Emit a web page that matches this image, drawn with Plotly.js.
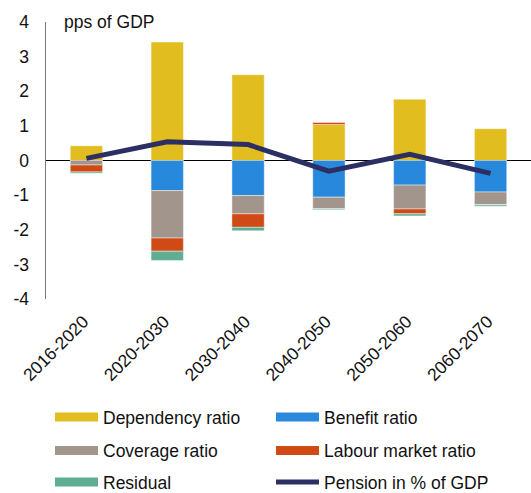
<!DOCTYPE html>
<html><head><meta charset="utf-8">
<script src="https://cdn.plot.ly/plotly-3.0.1.min.js"></script>
<style>html,body{margin:0;padding:0;background:#fff}#chart{width:531px;height:493px}</style>
</head><body><div id="chart"></div>
<script>
// ---- data ----
const categories = ['2016-2020','2020-2030','2030-2040','2040-2050','2050-2060','2060-2070'];
const dependencyRatio   = [0.43, 3.42, 2.48, 1.04, 1.77, 0.92];
const benefitRatio      = [0.00, -0.87, -1.01, -1.06, -0.71, -0.91];
const coverageRatio     = [-0.13, -1.37, -0.53, -0.33, -0.69, -0.36];
const labourMarketRatio = [-0.20, -0.38, -0.39, 0.06, -0.14, -0.01];
const residual          = [-0.04, -0.27, -0.10, -0.03, -0.06, -0.04];
const pensionInGDP      = [0.06, 0.54, 0.46, -0.31, 0.18, -0.37];
const seriesNames = ['Dependency ratio','Benefit ratio','Coverage ratio','Labour market ratio','Residual','Pension in % of GDP'];
const yTickValues = [-4,-3,-2,-1,0,1,2,3,4];
const yTickLabels = ['-4','-3','-2','-1','0','1','2','3','4'];
const yAxisLabel = 'pps of GDP';

// ---- style ----
const colors = ['#E2BD20','#2888DC','#A2968C','#D04A16','#5FAE93','#2B2F63'];
const legendOf = ['legend','legend','legend2','legend2','legend3','legend3'];
const barSeries = [dependencyRatio, benefitRatio, coverageRatio, labourMarketRatio, residual];
const FONT = 'Liberation Sans, Arial, sans-serif';
const fs = 17.5;

const traces = [];
barSeries.forEach((vals, i) => {
  traces.push({
    type: 'bar', x: categories, y: vals, name: seriesNames[i],
    marker: {color: colors[i], line: {color: 'rgba(255,255,255,0.55)', width: 0.8}},
    width: 0.4, showlegend: false, hoverinfo: 'skip'
  });
});
traces.push({
  type: 'scatter', mode: 'lines', x: categories, y: pensionInGDP, name: seriesNames[5],
  line: {color: colors[5], width: 5}, showlegend: false, hoverinfo: 'skip'
});
// legend entries
seriesNames.forEach((n, i) => {
  traces.push({
    type: 'scatter', mode: 'lines', x: [null], y: [null], name: n,
    line: {color: colors[i], width: i === 5 ? 5 : 9},
    legend: legendOf[i], showlegend: true, hoverinfo: 'skip'
  });
});

function leg(y) {
  return {orientation: 'h', xref: 'container', yref: 'container',
    x: 50 / 531, xanchor: 'left', y: y, yanchor: 'middle',
    entrywidth: 163, entrywidthmode: 'pixels', itemwidth: 43,
    font: {family: FONT, size: fs, color: '#111'}, bgcolor: 'rgba(0,0,0,0)',
    traceorder: 'normal', borderwidth: 0};
}

const layout = {
  width: 531, height: 493,
  margin: {l: 46, r: 0, t: 21.5, b: 193.5, autoexpand: false},
  paper_bgcolor: '#fff', plot_bgcolor: '#fff',
  barmode: 'relative', bargap: 0.6,
  font: {family: FONT, size: fs, color: '#111'},
  xaxis: {type: 'category', tickangle: -45, showgrid: false, showline: false, zeroline: false,
          automargin: false, ticks: '', ticklabelstandoff: 8, ticklabelshift: -3,
          tickfont: {family: FONT, size: fs, color: '#111'}},
  yaxis: {range: [-4, 4], tickvals: yTickValues, ticktext: yTickLabels, showgrid: false, showline: true,
          automargin: false, linecolor: '#7a7a7a', linewidth: 1.5, zeroline: true, zerolinecolor: '#000',
          zerolinewidth: 1.4, ticks: '', ticklabelstandoff: 12,
          tickfont: {family: FONT, size: fs, color: '#111'}},
  legend: leg(1 - 417 / 493), legend2: leg(1 - 450.5 / 493), legend3: leg(1 - 482 / 493),
  annotations: [{text: yAxisLabel, xref: 'paper', yref: 'paper', x: 0.033, y: 1.0,
    xanchor: 'left', yanchor: 'middle', showarrow: false,
    font: {family: FONT, size: fs, color: '#111'}}]
};

Plotly.newPlot('chart', traces, layout, {staticPlot: true, displayModeBar: false});
</script></body></html>
